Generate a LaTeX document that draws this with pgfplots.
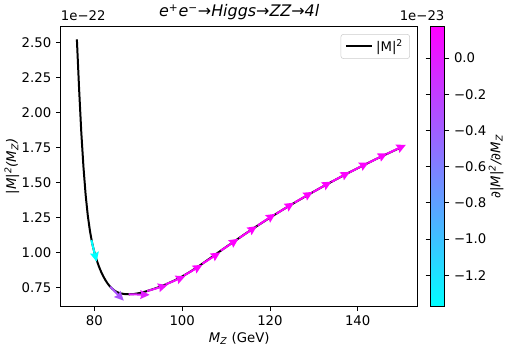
\documentclass[border=0pt]{standalone}
\usepackage{pgfplots}
\pgfplotsset{compat=1.18}
\usepackage{pgfplotstable}
\usepackage{fontspec}
\setmainfont{DejaVu Sans}
\usetikzlibrary{arrows.meta}

% |M|^2 curve, values in units of 1e-22
\pgfplotstableread{
x y
76.0 2.520
76.5 2.170
77.0 1.860
77.5 1.610
78.0 1.410
78.5 1.260
79.0 1.150
79.5 1.065
80.0 1.000
80.5 0.948
81.0 0.903
81.5 0.865
82.0 0.832
82.5 0.804
83.0 0.780
83.5 0.760
84.0 0.744
84.5 0.731
85.0 0.721
85.5 0.714
86.0 0.709
87.0 0.704
88.0 0.703
89.0 0.705
90.0 0.710
91.0 0.717
92.0 0.726
94.0 0.746
96.0 0.770
98.0 0.798
100.0 0.830
102.0 0.867
104.0 0.908
106.0 0.952
108.0 0.996
110.0 1.040
112.0 1.083
114.0 1.126
116.0 1.168
118.0 1.209
120.0 1.249
122.0 1.288
124.0 1.326
126.0 1.363
128.0 1.399
130.0 1.435
132.0 1.470
134.0 1.504
136.0 1.537
138.0 1.570
140.0 1.602
142.0 1.633
144.0 1.664
146.0 1.694
148.0 1.723
150.0 1.752
}\curve

% arrows: tail, direction, derivative (1e-23)
\pgfplotstableread{
x y u v c
79.3 1.090 1.20 -0.155 -1.37
83.6 0.757 3.10 -0.100 -0.33
87.8 0.703 4.80 -0.004 -0.02
92.0 0.726 4.65 0.042 0.07
96.2 0.773 4.50 0.059 0.11
100.4 0.837 4.20 0.076 0.15
104.6 0.921 4.08 0.081 0.165
108.8 1.014 4.03 0.085 0.174
113.0 1.104 4.03 0.085 0.174
117.2 1.193 4.06 0.084 0.172
121.4 1.276 4.12 0.080 0.168
125.6 1.356 4.18 0.077 0.163
129.8 1.431 4.23 0.075 0.158
134.0 1.504 4.27 0.072 0.153
138.2 1.573 4.32 0.070 0.148
142.4 1.639 4.36 0.069 0.143
146.6 1.703 4.40 0.066 0.138
}\arrowdata

\begin{document}
\begin{tikzpicture}
\begin{axis}[
    name=main,
    scale only axis,
    width=269pt, height=211pt,
    xmin=72.3, xmax=153.7,
    ymin=0.617, ymax=2.614,
    xtick={80,100,120,140},
    ytick={0.75,1,1.25,1.5,1.75,2,2.25,2.5},
    yticklabel style={/pgf/number format/.cd, fixed, fixed zerofill, precision=2},
    /pgf/number format/assume math mode=true,
    tick align=outside,
    xtick pos=bottom, ytick pos=left,
    major tick length=3.5pt,
    every tick/.style={black, line width=0.6pt},
    axis line style={line width=0.6pt},
    tick label style={font=\fontsize{10}{12}\selectfont},
    label style={font=\fontsize{10}{12}\selectfont},
    ylabel style={yshift=-5pt},
    xlabel style={yshift=2pt},
    title style={font=\fontsize{12}{14}\selectfont, yshift=-5pt},
    title={\itshape e\textsuperscript{+}e\textsuperscript{−}→Higgs→ZZ→4l},
    xlabel={\itshape M\textsubscript{Z}\upshape\ (GeV)},
    ylabel={\itshape |M|\textsuperscript{2}(M\textsubscript{Z})},
    colormap={cool}{rgb=(0,1,1) rgb=(1,0,1)},
    point meta min=-1.374, point meta max=0.174,
    colorbar,
    colorbar style={
        name=cbar,
        width=10.9pt,
        at={(parent axis.right of north east)},
        anchor=above north west,
        xshift=0.5pt,
        ytick={-1.2,-1.0,-0.8,-0.6,-0.4,-0.2,0},
        yticklabels={−1.2,−1.0,−0.8,−0.6,−0.4,−0.2,0.0},
        tick align=outside,
        major tick length=3.5pt,
        every tick/.style={black, line width=0.6pt},
        axis line style={line width=0.6pt},
        tick label style={font=\fontsize{10}{12}\selectfont},
        ylabel={\itshape ∂|M|\textsuperscript{2}/∂M\textsubscript{Z}},
        ylabel style={font=\fontsize{10}{12}\selectfont, yshift=5pt},
    },
    legend style={at={(rel axis cs:0.978,0.972)}, anchor=north east,
        draw=black!20, rounded corners=2pt, font=\fontsize{10}{12}\selectfont,
        inner xsep=3pt, inner ysep=2pt},
    legend cell align=left,
    legend image code/.code={\draw[#1] (0pt,0pt) -- (20pt,0pt);},
]
\addplot[black, line width=1.5pt] table[x=x, y=y] {\curve};
\addlegendentry{|M|\textsuperscript{2}}
\addplot[
    forget plot,
    point meta=\thisrow{c},
    quiver={u=\thisrow{u}, v=\thisrow{v}, colored=mapped color,
        every arrow/.append style={line width=1.5pt, -{Stealth[length=7pt, width=6.5pt, inset=0.8pt]}}},
] table[x=x, y=y] {\arrowdata};
\end{axis}
\node[anchor=south west, font=\fontsize{10}{12}\selectfont, inner sep=0pt] at ([yshift=4pt]main.north west) {1e−22};
\node[anchor=south east, font=\fontsize{10}{12}\selectfont, inner sep=0pt] at ([yshift=4pt]cbar.north east) {1e−23};
\end{tikzpicture}
\end{document}
